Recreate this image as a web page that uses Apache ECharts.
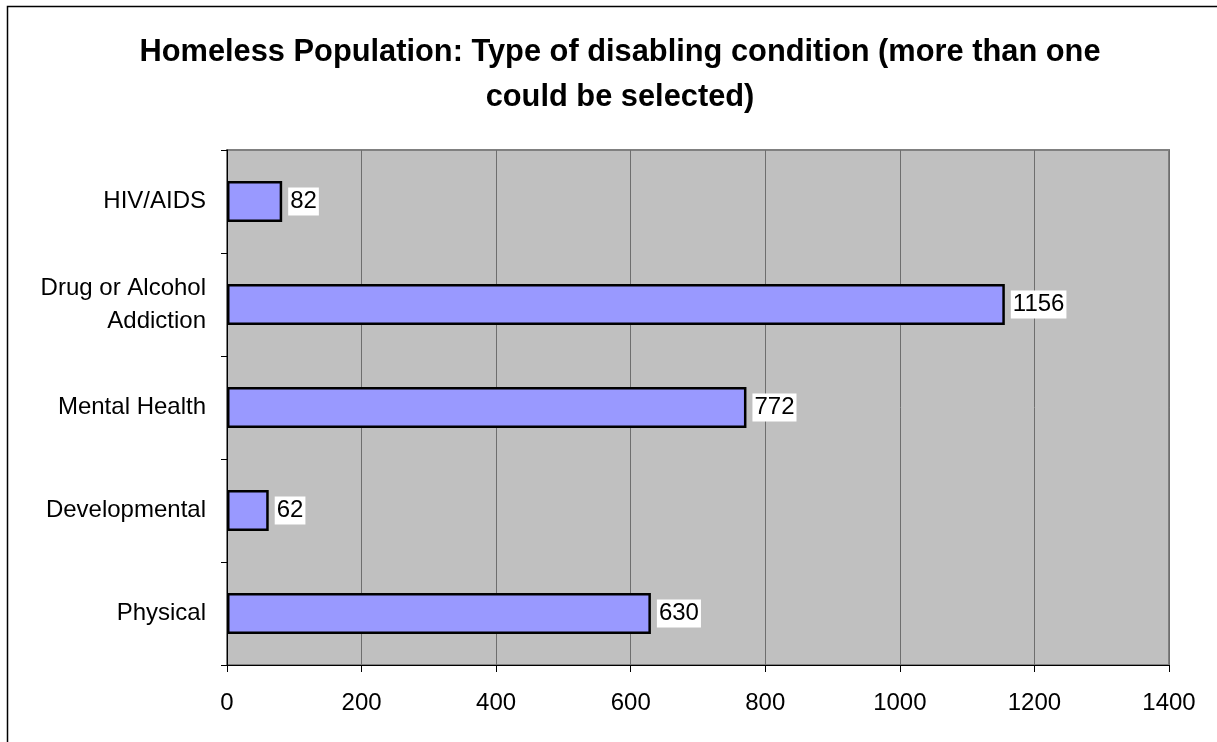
<!DOCTYPE html>
<html>
<head>
<meta charset="utf-8">
<style>
  html, body { margin: 0; padding: 0; background: #fff; }
  #chart { width: 1217px; height: 742px; }
</style>
<script src="https://cdn.jsdelivr.net/npm/echarts@6/dist/echarts.min.js"></script>
</head>
<body>
<div id="chart"></div>
<script>
// Disabling conditions reported by the homeless population (bottom to top on the axis)
const categories = ['Physical', 'Developmental', 'Mental Health', 'Drug or Alcohol\nAddiction', 'HIV/AIDS'];
const counts = [630, 62, 772, 1156, 82];
const xTicks = [0, 200, 400, 600, 800, 1000, 1200, 1400];
const titleText = 'Homeless Population: Type of disabling condition (more than one\ncould be selected)';

const chart = echarts.init(document.getElementById('chart'), null, { renderer: 'canvas' });
const FONT = '"Liberation Sans", Arial, sans-serif';

chart.setOption({
  animation: false,
  backgroundColor: '#ffffff',
  title: {
    text: titleText,
    left: 615,
    textAlign: 'center',
    top: 25,
    textStyle: { fontFamily: FONT, fontSize: 30.8, fontWeight: 'bold', color: '#000', lineHeight: 45 }
  },
  graphic: [{
    type: 'rect',
    shape: { x: 7.5, y: 6.5, width: 1240, height: 760 },
    style: { fill: 'none', stroke: '#000', lineWidth: 1.5 },
    silent: true
  }],
  grid: {
    left: 227, right: 48, top: 150, bottom: 77,
    show: true, backgroundColor: '#c0c0c0', borderColor: '#808080', borderWidth: 2
  },
  xAxis: {
    type: 'value', min: xTicks[0], max: xTicks[xTicks.length - 1], interval: xTicks[1] - xTicks[0],
    axisLine: { show: true, lineStyle: { color: '#000', width: 1 } },
    axisTick: { show: true, length: 7, lineStyle: { color: '#000' } },
    axisLabel: { fontFamily: FONT, fontSize: 24, color: '#000', margin: 26, formatter: v => String(v) },
    splitLine: { show: true, lineStyle: { color: '#6e6e6e', width: 1 } }
  },
  yAxis: {
    type: 'category', data: categories,
    axisLine: { show: true, lineStyle: { color: '#000', width: 1 } },
    axisTick: { show: true, length: 6, lineStyle: { color: '#000' } },
    axisLabel: { fontFamily: FONT, fontSize: 24, color: '#000', margin: 21, lineHeight: 33, align: 'right' },
    splitLine: { show: false }
  },
  series: [{
    type: 'bar',
    data: counts,
    barWidth: 41,
    itemStyle: { color: '#9999ff', borderColor: '#000', borderWidth: 2.5 },
    label: {
      show: true, position: 'right', distance: 6,
      fontFamily: FONT, fontSize: 24, color: '#000',
      backgroundColor: '#ffffff', padding: [3, 2, 1, 2],
      formatter: p => String(p.value)
    }
  }]
});
</script>
</body>
</html>
